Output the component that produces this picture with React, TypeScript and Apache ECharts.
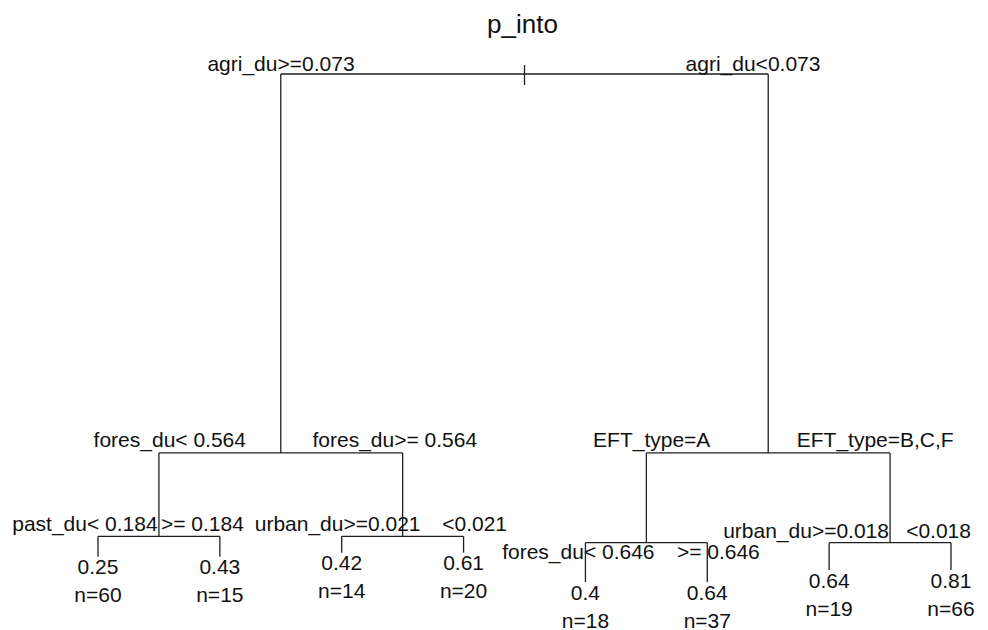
import React, { useEffect, useRef } from "react";
import * as echarts from "echarts";

// ---- data ----
const chartTitle = "p_into";

// internal nodes, rpart numbering (children of k are 2k and 2k+1)
const nodeIds = [1, 2, 3, 4, 5, 6, 7];
const nodeHeights = [1.0, 0.254, 0.254, 0.09, 0.09, 0.0774, 0.0774];
const leftLabels = [
  "agri_du>=0.073",
  "fores_du< 0.564",
  "EFT_type=A",
  "past_du< 0.184",
  "urban_du>=0.021",
  "fores_du< 0.646",
  "urban_du>=0.018",
];
const rightLabels = [
  "agri_du<0.073",
  "fores_du>= 0.564",
  "EFT_type=B,C,F",
  ">= 0.184",
  "<0.021",
  ">= 0.646",
  "<0.018",
];

// terminal nodes, left to right
const leafIds = [8, 9, 10, 11, 12, 13, 14, 15];
const leafMeans = [0.25, 0.43, 0.42, 0.61, 0.4, 0.64, 0.64, 0.81];
const leafCounts = [60, 15, 14, 20, 18, 37, 19, 66];
const leafHeights = [0.0498, 0.0498, 0.0577, 0.0577, 0, 0, 0.0236, 0.0236];

// ---- layout (pixel offsets of the split labels from their node) ----
// [left label dx, right label dx, dy]
const labelOffsets: Record<number, [number, number, number]> = {
  1: [-243.5, 228.5, -11],
  2: [-111, 114, -13],
  3: [-116.5, 107, -13],
  4: [-74, 43.5, -12.5],
  5: [-65, 72, -12.5],
  6: [-68, 72, 8.5],
  7: [-84, 48.5, -12],
};

const FONT = '"Liberation Sans", Arial, Helvetica, sans-serif';
const LINE = "#1f1f1f";
const TEXT = "#111111";

type P = { x: number; y: number };
const pos: Record<number, P> = {};
leafIds.forEach((id, i) => {
  pos[id] = { x: i + 1, y: leafHeights[i] };
});
[...nodeIds].reverse().forEach((id) => {
  const i = nodeIds.indexOf(id);
  pos[id] = { x: (pos[2 * id].x + pos[2 * id + 1].x) / 2, y: nodeHeights[i] };
});

const seriesData = [
  ...nodeIds.map((id) => [pos[id].x, pos[id].y, id]),
  ...leafIds.map((id) => [pos[id].x, pos[id].y, id]),
];

function seg(x1: number, y1: number, x2: number, y2: number) {
  return {
    type: "line",
    shape: { x1, y1, x2, y2 },
    style: { stroke: LINE, lineWidth: 1.3 },
  };
}

function txt(s: string, x: number, y: number, size = 21) {
  return {
    type: "text",
    style: {
      text: s,
      x,
      y,
      align: "center",
      verticalAlign: "middle",
      textAlign: "center",
      textVerticalAlign: "middle",
      fontSize: size,
      fontFamily: FONT,
      fill: TEXT,
    },
  };
}

export default function App() {
  const ref = useRef<HTMLDivElement>(null);
  useEffect(() => {
    if (!ref.current) return;
    const chart = echarts.init(ref.current, null, { renderer: "svg" });
    chart.setOption({
      animation: false,
      backgroundColor: "#ffffff",
      title: {
        text: chartTitle,
        left: 522.5,
        top: 24,
        textAlign: "center",
        textVerticalAlign: "middle",
        padding: 0,
        textStyle: {
          fontSize: 26,
          fontWeight: "normal",
          fontFamily: FONT,
          color: TEXT,
        },
      },
      grid: { left: 98, right: 37, top: 74, bottom: 48 },
      xAxis: { type: "value", min: 1, max: 8, show: false },
      yAxis: { type: "value", min: 0, max: 1, show: false },
      series: [
        {
          type: "custom",
          clip: false,
          data: seriesData,
          renderItem: (_params: any, api: any) => {
            const id = api.value(2) as number;
            const p = api.coord([api.value(0), api.value(1)]);
            const children: any[] = [];
            const ni = nodeIds.indexOf(id);
            if (ni >= 0) {
              const l = pos[2 * id];
              const r = pos[2 * id + 1];
              const pl = api.coord([l.x, l.y]);
              const pr = api.coord([r.x, r.y]);
              children.push(seg(pl[0], p[1], pr[0], p[1]));
              children.push(seg(pl[0], p[1], pl[0], pl[1]));
              children.push(seg(pr[0], p[1], pr[0], pr[1]));
              if (id === 1) children.push(seg(p[0], p[1] - 9, p[0], p[1] + 11));
              const [dl, dr, dy] = labelOffsets[id];
              children.push(txt(leftLabels[ni], p[0] + dl, p[1] + dy));
              children.push(txt(rightLabels[ni], p[0] + dr, p[1] + dy));
            } else {
              const li = leafIds.indexOf(id);
              children.push(txt(String(leafMeans[li]), p[0], p[1] + 10));
              children.push(txt("n=" + leafCounts[li], p[0], p[1] + 38));
            }
            return { type: "group", children };
          },
        },
      ],
    });
    return () => chart.dispose();
  }, []);
  return (
    <div
      ref={ref}
      style={{ position: "fixed", left: 0, top: 0, width: 988, height: 630 }}
    />
  );
}
